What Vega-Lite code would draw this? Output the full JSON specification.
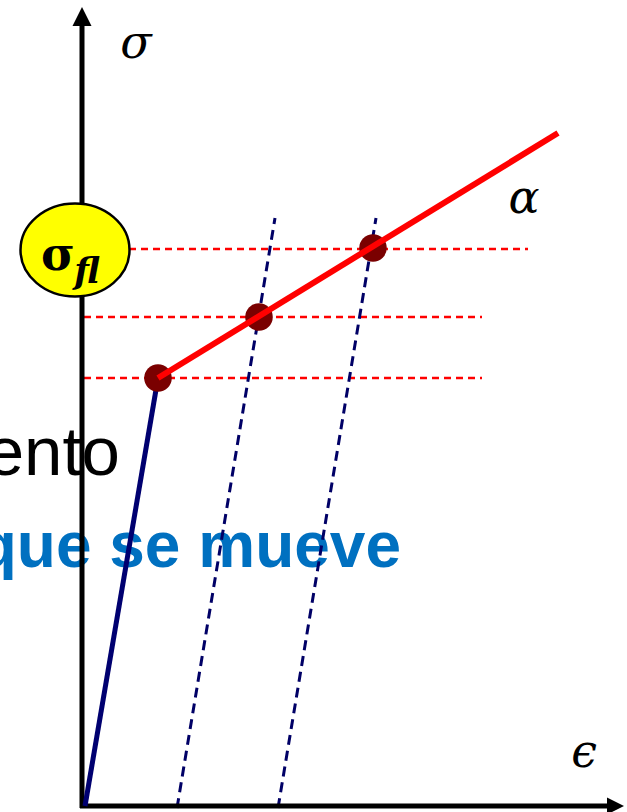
{
  "$schema": "https://vega.github.io/schema/vega-lite/v6.json",
  "width": 627,
  "height": 812,
  "padding": 0,
  "autosize": {"type": "none"},
  "background": "white",
  "config": {"view": {"stroke": null}},
  "encoding": {
    "x": {"field": "x", "type": "quantitative", "scale": {"domain": [0, 627], "nice": false, "zero": false}, "axis": null},
    "y": {"field": "y", "type": "quantitative", "scale": {"domain": [812, 0], "nice": false, "zero": false}, "axis": null}
  },
  "layer": [
    {
      "data": {"values": [{"x": 120, "y": 475, "label": "ento"}]},
      "mark": {"type": "text", "align": "right", "baseline": "alphabetic", "font": "Liberation Sans", "fontSize": 69, "color": "black"},
      "encoding": {"text": {"field": "label"}}
    },
    {
      "data": {"values": [{"x": 401, "y": 567, "label": "que se mueve"}]},
      "mark": {"type": "text", "align": "right", "baseline": "alphabetic", "font": "Liberation Sans", "fontWeight": "bold", "fontSize": 64, "color": "#0070c0"},
      "encoding": {"text": {"field": "label"}}
    },
    {
      "data": {"values": [
        {"x": 129, "y": 249, "x2": 528, "y2": 249},
        {"x": 84, "y": 317, "x2": 482, "y2": 317},
        {"x": 84, "y": 378, "x2": 482, "y2": 378}
      ]},
      "mark": {"type": "rule", "color": "#ff0000", "strokeWidth": 2.4, "strokeDash": [7, 5]},
      "encoding": {"x2": {"field": "x2"}, "y2": {"field": "y2"}}
    },
    {
      "data": {"values": [
        {"x": 177, "y": 808, "x2": 275, "y2": 218},
        {"x": 278, "y": 808, "x2": 376, "y2": 218}
      ]},
      "mark": {"type": "rule", "color": "#000066", "strokeWidth": 3, "strokeDash": [10, 6]},
      "encoding": {"x2": {"field": "x2"}, "y2": {"field": "y2"}}
    },
    {
      "data": {"values": [
        {"x": 82, "y": 808, "x2": 82, "y2": 22},
        {"x": 80, "y": 806, "x2": 610, "y2": 806}
      ]},
      "mark": {"type": "rule", "color": "black", "strokeWidth": 5},
      "encoding": {"x2": {"field": "x2"}, "y2": {"field": "y2"}}
    },
    {
      "data": {"values": [
        {"x": 82, "y": 16.5}
      ]},
      "mark": {"type": "point", "shape": "M0,-1L1,1L-1,1Z", "filled": true, "color": "black", "opacity": 1, "size": 361}
    },
    {
      "data": {"values": [
        {"x": 615.5, "y": 806}
      ]},
      "mark": {"type": "point", "shape": "M1,0L-1,1L-1,-1Z", "filled": true, "color": "black", "opacity": 1, "size": 289}
    },
    {
      "data": {"values": [
        {"x": 85, "y": 806, "x2": 158, "y2": 378}
      ]},
      "mark": {"type": "rule", "color": "#000070", "strokeWidth": 5},
      "encoding": {"x2": {"field": "x2"}, "y2": {"field": "y2"}}
    },
    {
      "data": {"values": [
        {"x": 158, "y": 378},
        {"x": 259, "y": 317},
        {"x": 373, "y": 248}
      ]},
      "mark": {"type": "point", "shape": "circle", "filled": true, "color": "#7a0000", "opacity": 1, "size": 760}
    },
    {
      "data": {"values": [
        {"x": 158, "y": 378, "x2": 558, "y2": 133}
      ]},
      "mark": {"type": "rule", "color": "#ff0000", "strokeWidth": 6},
      "encoding": {"x2": {"field": "x2"}, "y2": {"field": "y2"}}
    },
    {
      "data": {"values": [{"x": 75, "y": 250}]},
      "mark": {"type": "point", "shape": "M-1,0A1,0.853,0,1,1,1,0A1,0.853,0,1,1,-1,0Z", "filled": true, "fill": "#ffff00", "stroke": "black", "strokeWidth": 2.5, "opacity": 1, "fillOpacity": 1, "strokeOpacity": 1, "size": 11881}
    },
    {
      "data": {"values": [{"x": 58, "y": 270, "label": "σ"}]},
      "mark": {"type": "text", "align": "center", "baseline": "alphabetic", "font": "DejaVu Serif", "fontWeight": "bold", "fontSize": 46, "color": "black"},
      "encoding": {"text": {"field": "label"}}
    },
    {
      "data": {"values": [{"x": 87, "y": 283, "label": "fl"}]},
      "mark": {"type": "text", "align": "center", "baseline": "alphabetic", "font": "DejaVu Serif", "fontWeight": "bold", "fontStyle": "italic", "fontSize": 35, "color": "black"},
      "encoding": {"text": {"field": "label"}}
    },
    {
      "data": {"values": [
        {"x": 136, "y": 58, "label": "σ"},
        {"x": 524, "y": 213, "label": "α"},
        {"x": 584, "y": 767, "label": "ϵ"}
      ]},
      "mark": {"type": "text", "align": "center", "baseline": "alphabetic", "font": "DejaVu Serif", "fontStyle": "italic", "fontSize": 46, "color": "black"},
      "encoding": {"text": {"field": "label"}}
    }
  ]
}
